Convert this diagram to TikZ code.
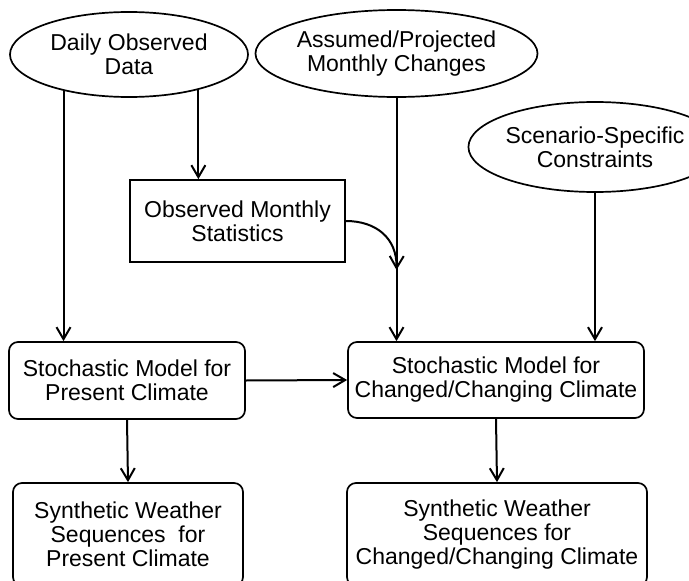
\documentclass[tikz,border=0pt]{standalone}
\usepackage{fontspec}
\setmainfont{Liberation Sans}
\usetikzlibrary{shapes.geometric,arrows.meta}
\begin{document}
\begin{tikzpicture}[x=1pt,y=-1pt,
  every node/.style={font=\fontsize{23}{24}\selectfont, align=center, inner sep=0pt},
  oval/.style={draw, ellipse, line width=1.7pt},
  sqbox/.style={draw, rectangle, line width=1.7pt},
  rbox/.style={draw, rectangle, rounded corners=9pt, line width=1.7pt},
  flow/.style={line width=2pt, -{Straight Barb[length=12pt,width=14pt,line width=2pt]}}]
\useasboundingbox (0,0) rectangle (689,581);
\clip (0,0) rectangle (689,581);

% inputs
\node[oval, minimum width=238, minimum height=85] (daily) at (129,54.5) {Daily Observed\\Data};
\node[oval, minimum width=231, minimum height=87] (assum) at (396.5,53.5) {Assumed/Projected\\Monthly Changes};
\node[oval, minimum width=212, minimum height=90] (scen) at (595,147) {Scenario-Specific\\Constraints};
\node[sqbox, minimum width=215, minimum height=82] (oms) at (237.5,221) {Observed Monthly\\Statistics};

% models
\node[rbox, minimum width=236, minimum height=77] (smp) at (127,380.5) {Stochastic Model for\\Present Climate};
\node[rbox, minimum width=296, minimum height=76] (smc) at (496,380) {Stochastic Model for\\Changed/Changing Climate};

% outputs
\node[rbox, minimum width=230, minimum height=103] (swp) at (128,534.5) {Synthetic Weather\\Sequences\ \ for\\Present Climate};
\node[rbox, minimum width=300, minimum height=103] (swc) at (497,534.5) {Synthetic Weather\\Sequences for\\Changed/Changing Climate};

% connectors
\draw[flow] (daily.209.8) -- (daily.209.8 |- smp.north);
\draw[flow] (daily.-27.2) -- (daily.-27.2 |- oms.north);
\draw[flow] (assum.south) -- (assum.south |- smc.north);
\draw[flow] (scen.south) -- (scen.south |- smc.north);
\coordinate (merge) at (assum.south |- 0,270);
\draw[flow] (oms.east) .. controls (376,221) and (397,238) .. (merge);
\draw[flow] (smp.east) -- (smc.west);
\draw[flow] (smp.south) -- (swp.north);
\draw[flow] (smc.south) -- (swc.north);
\end{tikzpicture}
\end{document}
